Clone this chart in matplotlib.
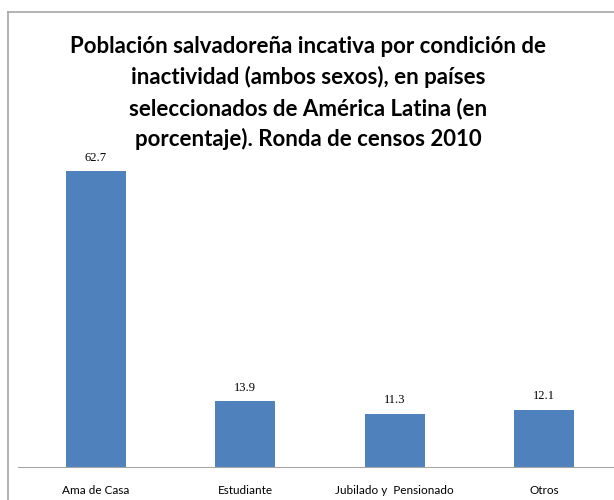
import matplotlib.pyplot as plt
from matplotlib.lines import Line2D

categorias = ['Ama de Casa', 'Estudiante', 'Jubilado y  Pensionado', 'Otros']
valores = [62.7, 13.9, 11.3, 12.1]

fig = plt.figure(figsize=(6.14, 5), dpi=100)

# marco gris del grafico
fig.add_artist(Line2D([8/614, 1], [1-12/500, 1-12/500], color='#a6a6a6', lw=1.2))
fig.add_artist(Line2D([8/614, 8/614], [0, 1-12/500], color='#a6a6a6', lw=1.2))

ax = fig.add_axes([18/614, 1-467/500, 601/614, 330/500])
x = range(len(categorias))
ax.bar(x, valores, width=0.4, color='#4f81bd')
ax.set_xlim(-0.52, 3.5)
ax.set_ylim(0, 70)

for xi, v in zip(x, valores):
    ax.text(xi, v + 1.6, f'{v:.1f}', ha='center', va='bottom',
            fontsize=9, family='Liberation Serif')

ax.set_xticks(list(x))
ax.set_xticklabels(categorias, fontsize=8.5, family='Lato')
ax.tick_params(axis='x', length=0, pad=13)
ax.set_yticks([])
for s in ['top', 'right', 'left']:
    ax.spines[s].set_visible(False)
ax.spines['bottom'].set_color('#a6a6a6')

fig.text(0.502, 1-93/500, 'Población salvadoreña incativa por condición de\n'
         'inactividad (ambos sexos), en países\n'
         'seleccionados de América Latina (en\n'
         'porcentaje). Ronda de censos 2010',
         ha='center', va='center', fontsize=16, fontweight='bold',
         family='Lato', linespacing=1.52)

plt.savefig('out.png')
